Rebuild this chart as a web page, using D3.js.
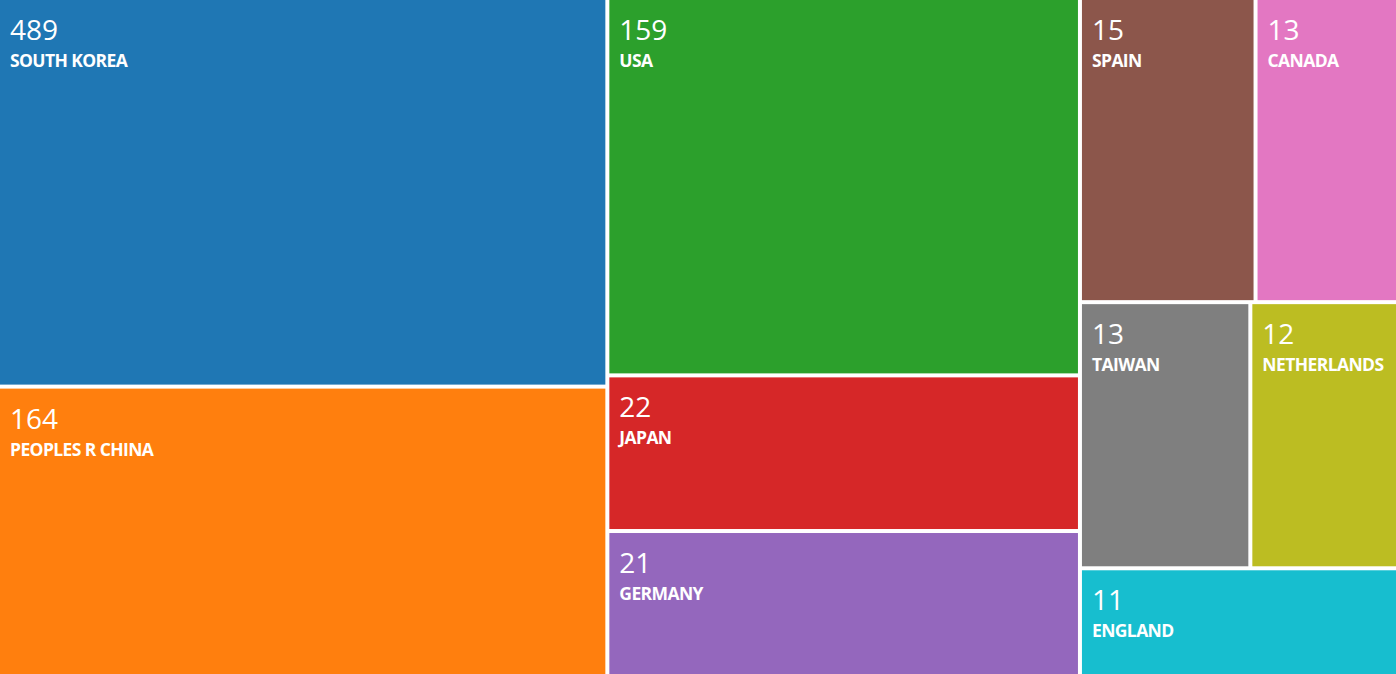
<!DOCTYPE html>
<html>
<head>
<meta charset="utf-8">
<script src="https://cdn.jsdelivr.net/npm/d3@7"></script>
<style>
  html, body { margin: 0; padding: 0; background: #fff; }
  svg { display: block; }
  .num { font-family: "Open Sans", sans-serif; font-weight: 400; fill: #fff; }
  .lbl { font-family: "Open Sans", sans-serif; font-weight: 700; fill: #fff; }
</style>
</head>
<body>
<svg id="chart"></svg>
<script>
// Countries (labels), record counts (shown), relative tile areas
const countries = ["SOUTH KOREA", "PEOPLES R CHINA", "USA", "JAPAN", "GERMANY",
                   "SPAIN", "CANADA", "TAIWAN", "NETHERLANDS", "ENGLAND"];
const counts    = [489, 164, 159, 22, 21, 15, 13, 13, 12, 11];
const tileArea  = [235, 175, 177, 73, 68, 53, 43, 45, 39, 34];
// Grouping of the tiles: columns, and rows inside the third column
const columnOf  = [0, 0, 1, 1, 1, 2, 2, 2, 2, 2];
const rowOf     = [0, 1, 0, 1, 2, 0, 0, 1, 1, 2];
const colors    = d3.schemeCategory10;

const W = 1396, H = 674, GAP = 4;

const cols = d3.groups(countries.map((c, i) => ({ i, name: c, value: counts[i], area: tileArea[i], col: columnOf[i], row: rowOf[i] })), d => d.col);
const rootData = {
  name: "root",
  children: cols.map(([ci, items]) => {
    if (ci === 2) {
      return { name: "col" + ci, children: d3.groups(items, d => d.row).map(([ri, its]) => ({ name: "row" + ri, children: its })) };
    }
    return { name: "col" + ci, children: items };
  })
};

const root = d3.hierarchy(rootData).sum(d => d.area || 0);
d3.treemap()
  .tile(d3.treemapSliceDice)
  .size([W, H])
  .paddingInner(GAP)
  .round(false)(root);

const svg = d3.select("#chart").attr("width", W).attr("height", H);

const leaves = svg.selectAll("g.cell")
  .data(root.leaves())
  .join("g")
  .attr("class", "cell")
  .attr("transform", d => `translate(${d.x0},${d.y0})`);

leaves.append("rect")
  .attr("width", d => d.x1 - d.x0)
  .attr("height", d => d.y1 - d.y0)
  .attr("fill", d => colors[d.data.i]);

leaves.append("text")
  .attr("class", "num")
  .attr("x", 10)
  .attr("y", 40)
  .style("font-size", "28px")
  .text(d => d.data.value);

leaves.append("text")
  .attr("class", "lbl")
  .attr("x", 10)
  .attr("y", 67)
  .style("font-size", "17.5px")
  .style("letter-spacing", "-0.6px")
  .text(d => d.data.name);
</script>
</body>
</html>
